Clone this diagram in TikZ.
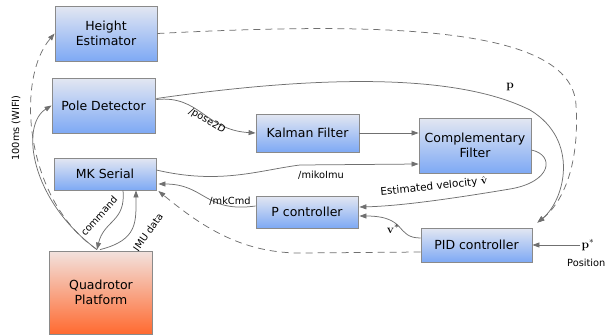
\documentclass[tikz,border=0pt]{standalone}
\usepackage[no-math]{fontspec}
\setmainfont{DejaVu Sans}
\usetikzlibrary{arrows.meta,calc}
\definecolor{boxtop}{HTML}{E3E7F2}
\definecolor{boxbot}{HTML}{7EA9F4}
\definecolor{quadtop}{HTML}{F2E2DE}
\definecolor{quadbot}{HTML}{FF6A30}
\definecolor{edgegray}{HTML}{707070}
\definecolor{framegray}{HTML}{8A8A8A}
\begin{document}
\begin{tikzpicture}[x=1pt,y=-1pt,
  block/.style={draw=framegray,line width=0.8pt,top color=boxtop,bottom color=boxbot,
    inner sep=0pt,align=center,font=\fontsize{12.5}{15}\selectfont,text=black},
  quadblock/.style={block,top color=quadtop,bottom color=quadbot},
  link/.style={draw=edgegray,line width=0.75pt,-{Triangle[length=7pt,width=5pt]},color=edgegray},
  dlink/.style={link,dash pattern=on 7pt off 5pt},
  lbl/.style={font=\fontsize{9.8}{11}\selectfont,inner sep=1pt,text=black},
  mathlbl/.style={font=\fontsize{12.5}{14}\selectfont,inner sep=1pt,text=black}
]
\useasboundingbox (0,0) rectangle (605,335);

% blocks
\node[block,minimum width=102pt,minimum height=55pt] (he) at (106,33.5) {Height\\Estimator};
\node[block,minimum width=103pt,minimum height=55pt] (pd) at (103.5,105.5) {Pole Detector};
\node[block,minimum width=102pt,minimum height=32pt] (ms) at (105,174) {MK Serial};
\node[quadblock,minimum width=103pt,minimum height=83pt] (qp) at (101,292.5) {Quadrotor\\Platform};
\node[block,minimum width=103pt,minimum height=38pt] (kf) at (307.5,133) {Kalman Filter};
\node[block,minimum width=112pt,minimum height=55pt] (cf) at (475,145.5) {Complementary\\Filter};
\node[block,minimum width=102pt,minimum height=32pt] (pc) at (307,212) {P controller};
\node[block,minimum width=111pt,minimum height=34pt] (pid) at (476.5,245) {PID controller};

% port points
\coordinate (qtop) at ($(qp.north)+(-4,-1)$);
\coordinate (pdout) at ($(pd.east)+(1,-7)$);

% WiFi links from the platform
\draw[link] (qtop) .. controls (30,200) and (20,125) .. (pd.west);
\draw[dlink] (qtop) .. controls (25,200) and (15,80) .. (he.west);
\node[lbl,rotate=90] (wifi) at (16,128) {100ms (WIFI)};

% serial link
\draw[link] ($(ms.south)+(18,0)$) .. controls (126,222) and (104,220) .. (qtop);
\node[lbl,rotate=48] (cmdl) at (99,216) {command};
\draw[link] ($(qtop)+(3,0)$) .. controls (138,240) and (136,222) .. ($(ms.south)+(31,0)$);
\node[lbl,rotate=55] (imul) at (148,232) {IMU data};

% position to PID
\draw[link] (pdout) .. controls (300,78) and (450,70) .. (530,110)
  .. controls (580,140) and (565,200) .. ($(pid.north east)+(5,-5)$);
\node[mathlbl] (pl) at (510,87) {$\mathbf{p}$};

% height to PID
\draw[dlink] (he.east) .. controls (380,22) and (572,25) .. (576,105)
  .. controls (580,170) and (560,205) .. ($(pid.north east)+(5,-5)$);

% pose to Kalman filter
\draw[link] ($(pdout)+(0,1)$) .. controls (200,95) and (205,130) .. (kf.west);
\node[lbl,rotate=-30] (posel) at (207,121) {/pose2D};

% IMU to complementary filter
\draw[link] ($(ms.east)+(0,-4)$) .. controls (220,185) and (260,170) .. (300,165)
  -- ($(cf.west)+(0,18.5)$);
\node[lbl] (imutl) at (321,175) {/mikoImu};

% Kalman to complementary
\draw[link] (kf.east) -- (kf.east -| cf.west);

% estimated velocity
\draw[link] ($(cf.east)+(0,4.5)$) .. controls (555,155) and (552,182) .. (510,189)
  .. controls (450,199) and (400,206) .. ($(pc.east)+(1,-5)$);
\node[lbl,rotate=6,font=\fontsize{10.5}{12}\selectfont] (vell) at (434,187) {Estimated velocity $\hat{\mathbf{v}}$};

% velocity setpoint
\draw[link] ($(pid.west)+(0,-7)$) .. controls (395,238) and (408,216) .. ($(pc.east)+(1,4)$);
\node[mathlbl] (vsl) at (393,229) {$\mathbf{v}^*$};

% command to MK serial
\draw[link] ($(pc.west)+(0,-6)$) .. controls (205,213) and (205,184) .. ($(ms.east)+(2,10)$);
\node[lbl] (cmdt) at (230,201) {/mkCmd};

% PID to MK serial (direct)
\draw[dlink] ($(pid.west)+(0,7)$) -- (300,253) .. controls (240,253) and (200,225) .. ($(ms.east)+(2,17)$);

% setpoint input
\node[mathlbl] (ps) at (588,245) {$\mathbf{p}^*$};
\draw[link] (ps.west) -- (ps.west -| pid.east);
\node[lbl,anchor=west] (posl) at (566,263) {Position};
\end{tikzpicture}
\end{document}
